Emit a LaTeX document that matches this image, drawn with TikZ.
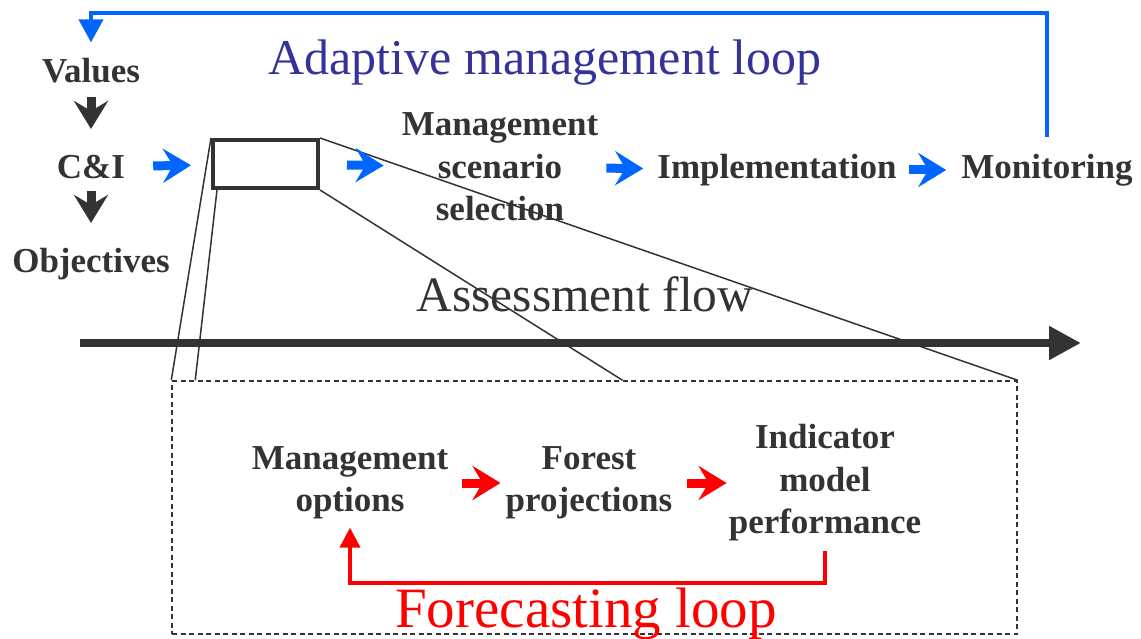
\documentclass[tikz,border=0pt]{standalone}
\usepackage{fontspec}
\setmainfont{Liberation Serif}
\usetikzlibrary{positioning,arrows.meta}
\definecolor{darkgrey}{RGB}{51,51,51}
\definecolor{loopblue}{RGB}{0,102,255}
\definecolor{titleblue}{RGB}{51,51,153}
\definecolor{loopred}{RGB}{255,0,0}

\begin{document}
\begin{tikzpicture}[x=1pt, y=-1pt,
  lbl/.style={font=\fontsize{35}{42.5}\selectfont\bfseries, text=darkgrey,
              align=center, inner sep=0pt},
  big/.style={inner sep=0pt, anchor=base},
  chev/.style={line width=9pt, -{Stealth[length=28pt, width=34pt, inset=10pt]}},
  zoomline/.style={draw=darkgrey, line width=1.5pt},
  bigloop/.style={line width=4pt, loopblue, -{Triangle[length=23pt, width=24pt]}},
  fcloop/.style={line width=4pt, loopred, -{Triangle[length=20pt, width=20pt]}}
]
\useasboundingbox (0,0) rectangle (1141,639);

% adaptive management row
\node[lbl] (values) at (91,71) {Values};
\node[lbl] (ci) at (91,167) {C\&I};
\node[lbl] (objectives) at (91,264) {Objectives};
\node[draw=darkgrey, line width=4pt, minimum width=105pt, minimum height=48pt,
      inner sep=0pt] (zoombox) at (265.5,164) {};
\node[lbl] (scenario) at (500,167) {Management\\scenario\\selection};
\node[lbl] (implementation) at (777,170) {Implementation};
\node[lbl] (monitoring) at (1047,170) {Monitoring};

\node[big, text=titleblue, font=\fontsize{50}{60}\selectfont] (adaptive) at (545,75)
  {Adaptive management loop};

% assessment flow
\coordinate (flowstart) at (80,343);
\coordinate (flowend) at (1081,343);
\draw[line width=8pt, darkgrey, -{Triangle[length=32pt, width=32pt]}] (flowstart) -- (flowend);
\node[big, text=darkgrey, font=\fontsize{49.5}{59}\selectfont] (flow) at (585,312)
  {Assessment flow};

% forecasting detail
\node[draw=darkgrey, dash pattern=on 5pt off 3.5pt, line width=1.5pt,
      minimum width=845pt, minimum height=253pt] (detail) at (594.5,507.5) {};
\node[lbl] (options) at (350,483) {Management\\options};
\node[lbl] (forest) at (589,483) {Forest\\projections};
\node[lbl] (indicator) at (825,483) {Indicator\\model\\performance};
\node[big, text=loopred, font=\fontsize{57}{68}\selectfont] (forecast) at (586,627)
  {Forecasting loop};

% zoom lines
\draw[zoomline] (zoombox.north west) -- (detail.north west);
\draw[zoomline] ([xshift=6pt]zoombox.south west) -- ([xshift=24pt]detail.north west);
\draw[zoomline] (zoombox.north east) -- (detail.north east);
\draw[zoomline] (zoombox.south east) -- ([xshift=28pt]detail.north);

% arrows
\draw[chev, darkgrey, shorten <=13pt, shorten >=26pt] (values) -- (ci);
\draw[chev, darkgrey, shorten <=12pt, shorten >=25pt] (ci) -- (objectives);
\draw[chev, loopblue, shorten <=28pt, shorten >=20pt] (ci) -- (zoombox);
\draw[chev, loopblue, shorten <=27pt, shorten >=18pt] (zoombox) -- (scenario);
\draw[chev, loopblue, shorten <=8pt, shorten >=14pt] (scenario) -- (implementation);
\draw[chev, loopblue, shorten <=12pt, shorten >=15pt] (implementation) -- (monitoring);
\draw[chev, loopred, shorten <=14pt, shorten >=5pt] (options) -- (forest);
\draw[chev, loopred, shorten <=15pt, shorten >=2pt] (forest) -- (indicator);

% loops
\draw[bigloop, shorten <=17pt, shorten >=16pt] (monitoring.north) -- ++(0,-141) -| (values.north);
\draw[fcloop, shorten <=9pt, shorten >=8pt] (indicator.south) -- ++(0,41) -| (options.south);
\end{tikzpicture}
\end{document}
